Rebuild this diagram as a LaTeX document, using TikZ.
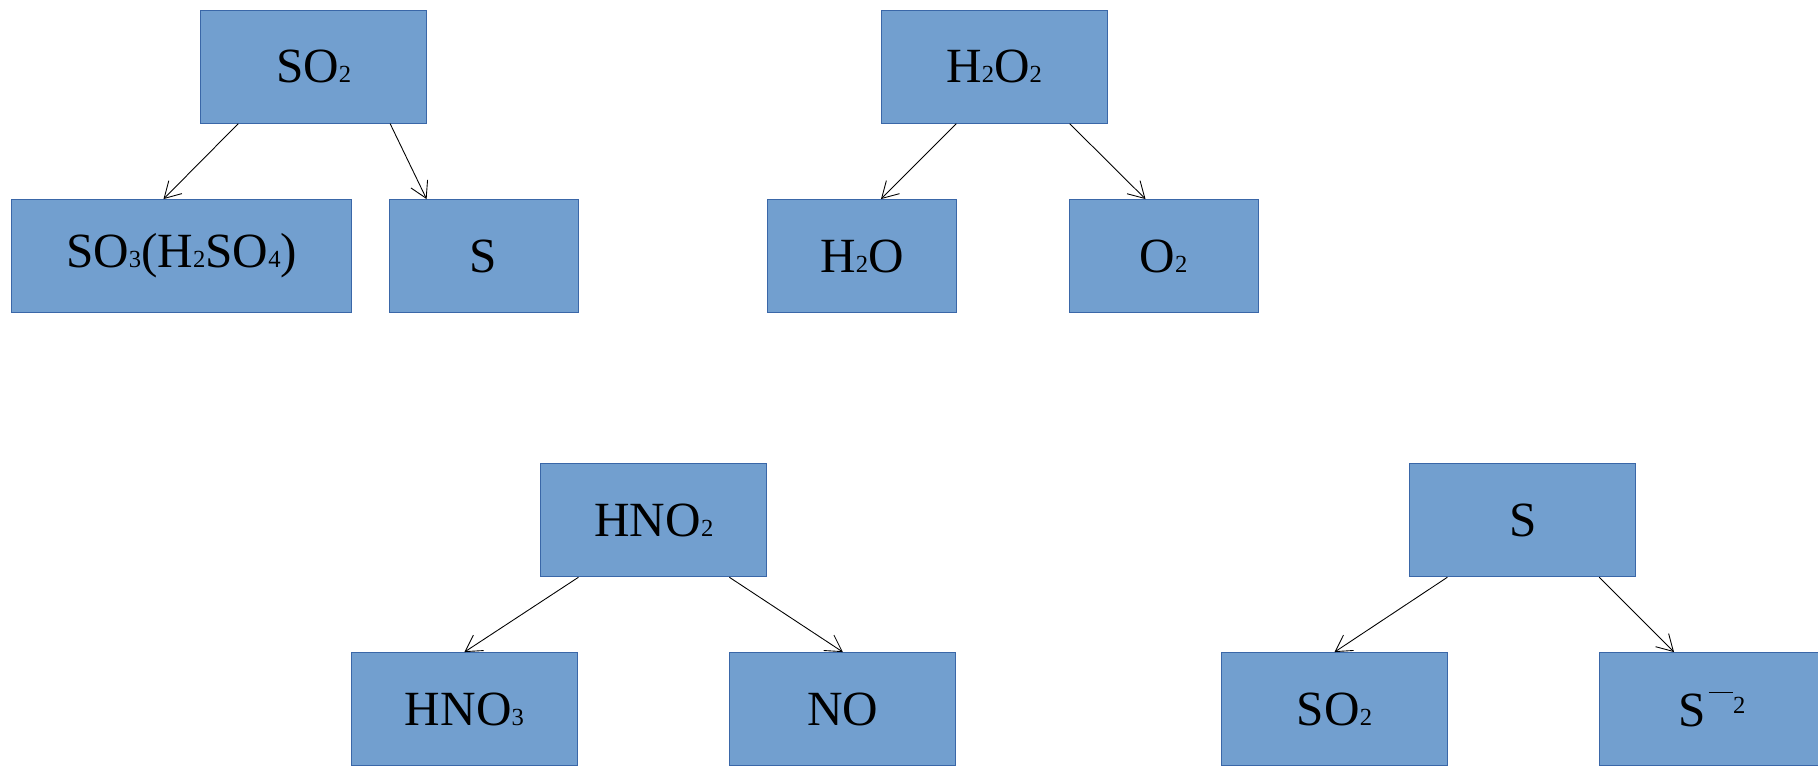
\documentclass[tikz,border=0pt]{standalone}
\usepackage{fontspec}
\setmainfont{Liberation Serif}
\usepackage{xcolor}
\usepackage{tikz}
\usetikzlibrary{arrows.meta, positioning, calc}
\definecolor{boxcolor0}{HTML}{729FCF}
\definecolor{boxcolor1}{HTML}{3A67A8}
\definecolor{boxcolor2}{HTML}{000000}
\newcommand{\chemsub}[1]{{\fontsize{14}{14}\selectfont #1}}
\newcommand{\chemion}[1]{\hspace{0.05cm}\raisebox{0.66cm}{\rule{0.49cm}{0.03cm}}\raisebox{0.25cm}{\fontsize{14}{14}\selectfont #1}}
\tikzset{
  element_box/.style={rectangle, draw=boxcolor1, fill=boxcolor0, line width=0.5pt, minimum height=2.26cm, inner sep=0pt, text=boxcolor2, font=\fontsize{28}{34}\selectfont},
  element_narrow/.style={element_box, minimum width=3.78cm},
  element_wide/.style={element_box, minimum width=4.52cm},
  element_long/.style={element_box, minimum width=6.8cm},
  dep_arrow/.style={color=boxcolor2, line width=0.5pt, -{Straight Barb[length=0.32cm, width=0.37cm]}}
}

\begin{document}
\begin{tikzpicture}[x=0.02cm, y=-0.02cm]
\clip (0,0) rectangle (1818,765);
% sulfur dioxide
\node[element_wide] (root_so2) at (313.7,66.7) {SO\chemsub{2}};
\node[element_long] (child_so3) at (181.5,256) {SO\chemsub{3}(H\chemsub{2}SO\chemsub{4})};
\node[element_narrow] (child_s) at (483.5,256) {S};
\draw[dep_arrow] ($(root_so2.south west)+(38,0)$) to ($(child_so3.north)+(-18,0)$);
\draw[dep_arrow] ($(root_so2.south east)+(-37,0)$) to ($(child_s.north west)+(38,0)$);
% hydrogen peroxide
\node[element_wide] (root_h2o2) at (994.2,66.7) {H\chemsub{2}O\chemsub{2}};
\node[element_narrow] (child_h2o) at (862,256) {H\chemsub{2}O};
\node[element_narrow] (child_o2) at (1163.5,256) {O\chemsub{2}};
\draw[dep_arrow] ($(root_h2o2.south west)+(75.5,0)$) to ($(child_h2o.north)+(19,0)$);
\draw[dep_arrow] ($(root_h2o2.south east)+(-38,0)$) to ($(child_o2.north)+(-18,0)$);
% nitrous acid
\node[element_wide] (root_hno2) at (653.9,520.3) {HNO\chemsub{2}};
\node[element_wide] (child_hno3) at (464.4,709) {HNO\chemsub{3}};
\node[element_wide] (child_no) at (842.9,709) {NO};
\draw[dep_arrow] ($(root_hno2.south west)+(38,0)$) to (child_hno3.north);
\draw[dep_arrow] ($(root_hno2.south east)+(-38,0)$) to (child_no.north);
% sulfur
\node[element_wide] (root_s) at (1522.8,520.3) {S};
\node[element_wide] (child_so2) at (1334.5,709) {SO\chemsub{2}};
\node[element_wide] (child_sion) at (1712,709) {S\chemion{2}};
\draw[dep_arrow] ($(root_s.south west)+(38,0)$) to (child_so2.north);
\draw[dep_arrow] ($(root_s.south east)+(-37,0)$) to ($(child_sion.north)+(-38,0)$);
\end{tikzpicture}
\end{document}
